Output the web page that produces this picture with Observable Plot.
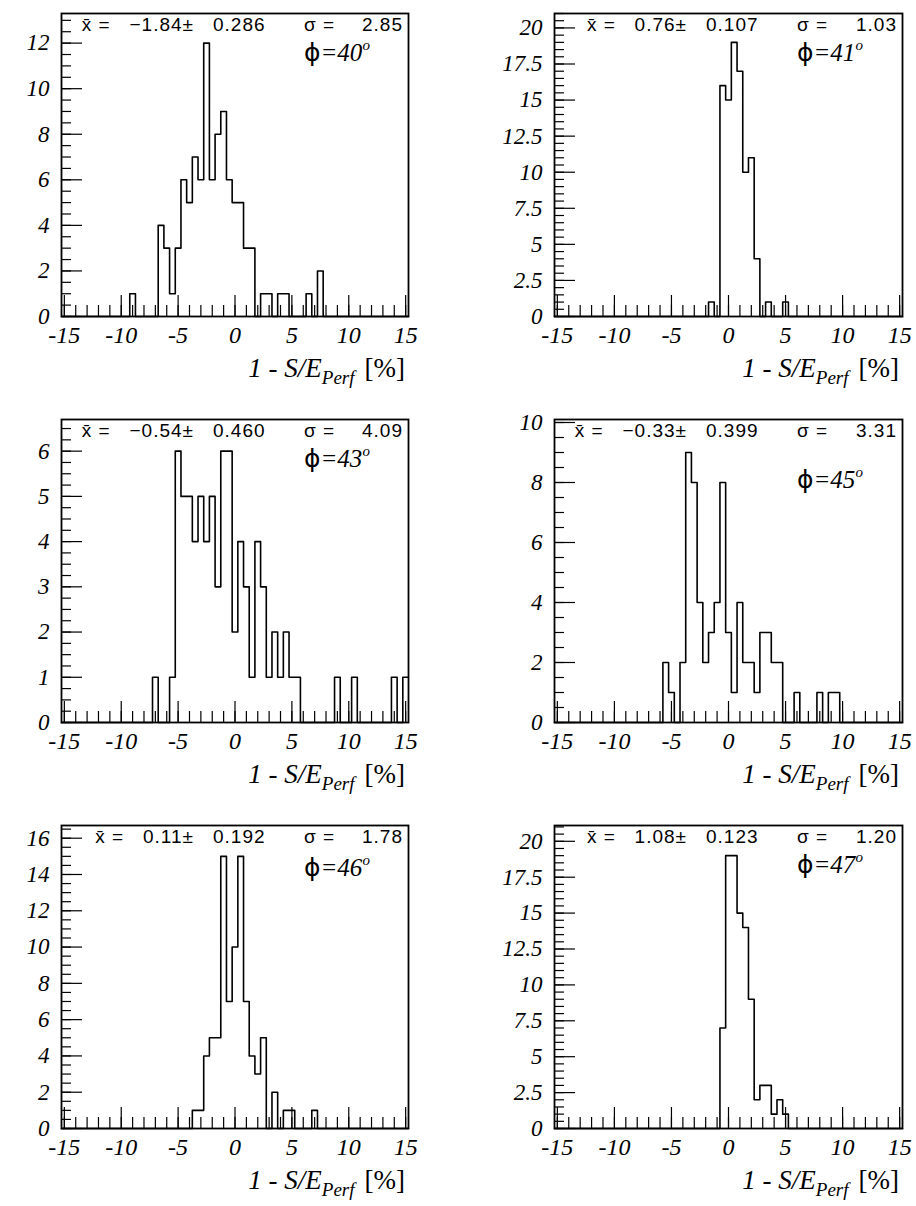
<!DOCTYPE html>
<html><head><meta charset="utf-8">
<script src="https://cdn.jsdelivr.net/npm/d3@7"></script>
<script src="https://cdn.jsdelivr.net/npm/@observablehq/plot@0.6"></script>
<style>
body{margin:0;background:#fff;}
#wrap{position:relative;width:916px;height:1206px;overflow:hidden;background:#fff;}
#wrap svg{position:absolute;overflow:visible;}
#wrap svg text.tl, #wrap svg text.tl tspan{font-family:"Liberation Serif","Times New Roman",Times,serif !important;font-style:italic;}
#wrap svg text.st{font-family:"Liberation Sans",Arial,Helvetica,sans-serif !important;}
#wrap svg text.ser{font-family:"Liberation Serif","Times New Roman",Times,serif !important;}
#wrap svg tspan.it{font-style:italic;}
#wrap svg tspan.phi{font-family:"DejaVu Sans",sans-serif !important;font-style:normal;}
</style></head><body><div id="wrap"></div>
<script>
// ---- panel annotations ----
const angles = [40, 41, 43, 45, 46, 47];
const means = [-1.84, 0.76, -0.54, -0.33, 0.11, 1.08];
const meanErrs = [0.286, 0.107, 0.460, 0.399, 0.192, 0.123];
const sigmas = [2.85, 1.03, 4.09, 3.31, 1.78, 1.20];

// ---- histogram contents: bin centres (%) and entries, bin width 0.5 ----
const centers40 = [-9, -6.5, -6, -5.5, -5, -4.5, -4, -3.5, -3, -2.5, -2, -1.5, -1, -0.5, 0, 0.5, 1, 1.5, 2.5, 3, 4, 4.5, 6.5, 7.5];
const counts40  = [ 1,    4,  3,    1,  3,    6,  5,    7,  6,   12,  6,    8,  9,    6, 5,   5, 3,   3,   1, 1, 1,   1,   1,   2];
const centers41 = [-1.5, -0.5, 0, 0.5, 1, 1.5, 2, 2.5, 3.5, 5];
const counts41  = [   1,   16, 15, 19, 17, 10, 11, 4,   1, 1];
const centers43 = [-7, -5.5, -5, -4.5, -4, -3.5, -3, -2.5, -2, -1.5, -1, -0.5, 0, 0.5, 1, 1.5, 2, 2.5, 3, 3.5, 4, 4.5, 5, 5.5, 9, 10.5, 14, 15];
const counts43  = [ 1,    1,  6,    5,  5,    4,  5,    4,  5,    3,  6,    6, 2,   4, 3,   1, 4,   3, 1,   2, 1,   2, 1,   1, 1,    1,  1,  1];
const centers45 = [-5.5, -5, -4, -3.5, -3, -2.5, -2, -1.5, -1, -0.5, 0, 0.5, 1, 1.5, 2, 2.5, 3, 3.5, 4, 4.5, 6, 8, 9, 9.5];
const counts45  = [   2,  1,  2,    9,  8,    4,  2,    3,  4,    8, 3,   1, 4,   2, 2,   1, 3,   3, 2,   2, 1, 1, 1,   1];
const centers46 = [-3.5, -3, -2.5, -2, -1.5, -1, -0.5, 0, 0.5, 1, 1.5, 2, 2.5, 3.5, 4.5, 5, 7];
const counts46  = [   1,  1,    4,  5,    5, 15,    7, 10, 15, 7,   4, 3,   5,   2,   1, 1, 1];
const centers47 = [-0.5, 0, 0.5, 1, 1.5, 2, 2.5, 3, 3.5, 4, 4.5, 5];
const counts47  = [   7, 19, 19, 15, 14, 9,   2, 3,   3, 1,   2, 1];

// ---- axes ----
const xRange = [-15.25, 15.25];
const xLabels = [-15, -10, -5, 0, 5, 10, 15];
const xMinor = d3.range(-15, 16, 1);
const yTop = [13.3, 21, 6.7, 10.1, 16.7, 21.1];
const yLabels40 = [0, 2, 4, 6, 8, 10, 12];
const yLabels41 = [0, 2.5, 5, 7.5, 10, 12.5, 15, 17.5, 20];
const yLabels43 = [0, 1, 2, 3, 4, 5, 6];
const yLabels45 = [0, 2, 4, 6, 8, 10];
const yLabels46 = [0, 2, 4, 6, 8, 10, 12, 14, 16];
const yLabels47 = [0, 2.5, 5, 7.5, 10, 12.5, 15, 17.5, 20];
const yMinorStep = [0.5, 0.5, 0.25, 0.5, 0.5, 0.5];

const panels = [
  {c: centers40, n: counts40, yl: yLabels40},
  {c: centers41, n: counts41, yl: yLabels41},
  {c: centers43, n: counts43, yl: yLabels43},
  {c: centers45, n: counts45, yl: yLabels45},
  {c: centers46, n: counts46, yl: yLabels46},
  {c: centers47, n: counts47, yl: yLabels47}
];

// ---- layout ----
const W = 458, H = 400, MT = 13, MB = 84;
const colMargins = [{l: 61, r: 50}, {l: 96, r: 14}];
const rowTops = [0, 406, 812];
const phiDy = [48, 48, 48, 69, 51, 48];

const wrap = document.getElementById("wrap");
const fmtSigned = (v, d) => (v < 0 ? "\u2212" : "") + Math.abs(v).toFixed(d);

panels.forEach((p, i) => {
  const col = i % 2, row = Math.floor(i / 2);
  const {l, r} = colMargins[col];
  const FW = W - l - r, FH = H - MT - MB;
  const countOf = new Map(p.c.map((c, j) => [c, p.n[j]]));
  const centres = d3.range(-15, 15.0001, 0.5);
  const step = centres.map(c => ({x: c - 0.25, y: countOf.get(+c.toFixed(2)) || 0}));
  step.push({x: xRange[1], y: step[step.length - 1].y});
  const yMinor = d3.range(0, yTop[i] + 1e-9, yMinorStep[i]);

  const svg = Plot.plot({
    width: W, height: H,
    marginLeft: l, marginRight: r, marginTop: MT, marginBottom: MB,
    x: {domain: xRange, axis: null},
    y: {domain: [0, yTop[i]], axis: null},
    style: {background: "transparent", color: "black"},
    marks: [
      Plot.tickX(xMinor, {x: d => d, insetTop: FH - 11, stroke: "black", strokeWidth: 1.2}),
      Plot.tickX(xLabels, {x: d => d, insetTop: FH - 21, stroke: "black", strokeWidth: 1.2}),
      Plot.tickY(yMinor, {y: d => d, insetRight: FW - 10, stroke: "black", strokeWidth: 1.2}),
      Plot.tickY(p.yl, {y: d => d, insetRight: FW - 21, stroke: "black", strokeWidth: 1.2}),
      Plot.line(step, {x: "x", y: "y", curve: "step-after", stroke: "black", strokeWidth: 1.6}),
      Plot.frame({stroke: "black", strokeWidth: 1.8}),
      Plot.text(xLabels, {x: d => d, frameAnchor: "bottom", dy: 26, text: d => String(d),
        fontSize: 24, fill: "black"}),
      Plot.text(p.yl, {y: d => d, frameAnchor: "left", dx: -12, textAnchor: "end", text: d => String(d),
        fontSize: 23, fill: "black"})
    ]
  });
  svg.style.left = (col * W) + "px";
  svg.style.top = rowTops[row] + "px";
  wrap.appendChild(svg);

  const s = d3.select(svg);
  s.selectAll("text").classed("tl", true);
  const fl = l, ft = MT, fr = W - r, fb = H - MB;
  const addStat = (x, anchor, str) => s.append("text").attr("class", "st")
    .attr("x", x).attr("y", ft + 18).attr("text-anchor", anchor)
    .attr("font-size", 19).attr("letter-spacing", "1px").attr("fill", "black")
    .style("white-space", "pre").text(str);
  addStat(fl + 133, "end", "x\u0304 =   " + fmtSigned(means[i], 2) + "\u00B1");
  addStat(fl + 152, "start", meanErrs[i].toFixed(3));
  addStat(fl + 243, "start", "\u03C3 =");
  addStat(fr - 5, "end", sigmas[i].toFixed(2));

  const phi = s.append("text").attr("class", "ser").attr("x", fl + 243).attr("y", ft + phiDy[i])
    .attr("text-anchor", "start").attr("font-size", 25).attr("fill", "black");
  phi.append("tspan").attr("class", "phi").attr("font-size", 25).text("\u03D5");
  phi.append("tspan").attr("class", "it").text("=" + angles[i]);
  phi.append("tspan").attr("class", "it").attr("font-size", 15).attr("dy", -11).text("o");

  const title = s.append("text").attr("class", "ser").attr("x", fr - 3).attr("y", fb + 61)
    .attr("text-anchor", "end").attr("font-size", 27).attr("fill", "black").style("white-space", "pre");
  title.append("tspan").attr("class", "it").text("1 - S/E");
  title.append("tspan").attr("class", "it").attr("font-size", 19).attr("dy", 7).text("Perf");
  title.append("tspan").attr("dy", -7).attr("dx", 10).text("[%]");
});
</script>
</body></html>
